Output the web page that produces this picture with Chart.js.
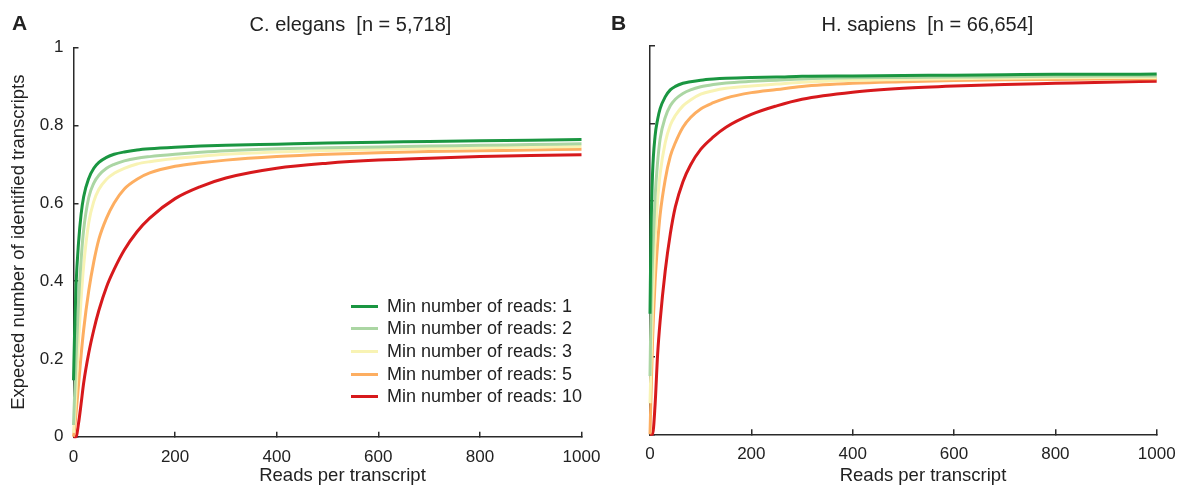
<!DOCTYPE html>
<html>
<head>
<meta charset="utf-8">
<script src="https://cdn.jsdelivr.net/npm/chart.js@4.4.1/dist/chart.umd.min.js"></script>
<style>
  body { margin: 0; background: #fff; font-family: 'Liberation Sans', Arial, sans-serif; color: #222; }
  #page { position: relative; width: 1181px; height: 485px; overflow: hidden; }
  canvas { position: absolute; top: 0; }
  .txt { position: absolute; white-space: pre; line-height: 1; }
  .center { transform: translateX(-50%); }
  .letter { font-weight: bold; font-size: 21px; }
  .title { font-size: 20px; }
  .xtitle { font-size: 18.5px; }
  #legend { position: absolute; left: 350.7px; top: 295px; z-index: 2; }
  .row { position: absolute; left: 0; height: 22px; display: flex; align-items: center; font-size: 18px; white-space: pre; }
  .swatch { width: 27px; height: 3px; margin-right: 9.3px; }
</style>
</head>
<body>
<div id="page">
  <canvas id="elegans" width="616" height="485" style="left:0"></canvas>
  <canvas id="sapiens" width="601" height="485" style="left:590px"></canvas>

  <div class="txt letter" style="left:12px; top:12.2px">A</div>
  <div class="txt letter" style="left:611px; top:12.2px">B</div>
  <div class="txt title center" style="left:350.5px; top:13.8px">C. elegans  [n = 5,718]</div>
  <div class="txt title center" style="left:927.5px; top:13.8px">H. sapiens  [n = 66,654]</div>
  <div class="txt xtitle center" style="left:342.5px; top:465.5px">Reads per transcript</div>
  <div class="txt xtitle center" style="left:923px; top:465.5px">Reads per transcript</div>
  <div id="legend"></div>
</div>

<script>
// reads per transcript where the curves were sampled
const readsPerTranscript = [0, 2, 5, 10, 15, 20, 30, 40, 50, 65, 80, 100, 125, 150, 200, 250, 300, 400, 500, 600, 700, 800, 900, 1000]
const minReads = [1, 2, 3, 5, 10]
const lineColors = ['#1a9641', '#abd6a3', '#f8f3b4', '#fdae61', '#d7191c']

const xTicks = [0, 200, 400, 600, 800, 1000]
const yTicks = [0, 0.2, 0.4, 0.6, 0.8, 1]

// C. elegans
const elegans1 = [0.145, 0.26, 0.39, 0.50, 0.572, 0.617, 0.664, 0.69, 0.705, 0.718, 0.726, 0.732, 0.737, 0.74, 0.744, 0.747, 0.749, 0.752, 0.755, 0.757, 0.759, 0.761, 0.762, 0.764]
const elegans2 = [0.03, 0.10, 0.20, 0.35, 0.455, 0.532, 0.615, 0.652, 0.672, 0.69, 0.70, 0.709, 0.716, 0.72, 0.726, 0.731, 0.735, 0.740, 0.743, 0.745, 0.747, 0.749, 0.751, 0.753]
const elegans3 = [0.01, 0.045, 0.115, 0.25, 0.355, 0.44, 0.55, 0.605, 0.636, 0.662, 0.677, 0.69, 0.701, 0.707, 0.715, 0.721, 0.726, 0.732, 0.736, 0.739, 0.741, 0.743, 0.745, 0.746]
const elegans5 = [0, 0.02, 0.06, 0.135, 0.21, 0.275, 0.375, 0.45, 0.508, 0.562, 0.601, 0.637, 0.662, 0.678, 0.695, 0.704, 0.711, 0.72, 0.726, 0.73, 0.733, 0.735, 0.737, 0.739]
const elegans10 = [0, 0, 0, 0.035, 0.085, 0.138, 0.215, 0.275, 0.325, 0.385, 0.43, 0.48, 0.527, 0.562, 0.612, 0.643, 0.665, 0.69, 0.703, 0.711, 0.716, 0.72, 0.723, 0.725]

// H. sapiens
const sapiens1 = [0.31, 0.52, 0.67, 0.767, 0.81, 0.838, 0.868, 0.886, 0.895, 0.903, 0.907, 0.911, 0.914, 0.916, 0.918, 0.919, 0.921, 0.922, 0.923, 0.924, 0.925, 0.926, 0.926, 0.927]
const sapiens2 = [0.15, 0.32, 0.45, 0.61, 0.70, 0.76, 0.815, 0.845, 0.862, 0.877, 0.886, 0.894, 0.90, 0.904, 0.908, 0.911, 0.914, 0.917, 0.918, 0.919, 0.92, 0.921, 0.922, 0.922]
const sapiens3 = [0.08, 0.18, 0.33, 0.50, 0.60, 0.67, 0.75, 0.795, 0.82, 0.845, 0.86, 0.875, 0.884, 0.89, 0.896, 0.901, 0.906, 0.911, 0.913, 0.915, 0.916, 0.917, 0.918, 0.918]
const sapiens5 = [0, 0.10, 0.24, 0.39, 0.49, 0.565, 0.655, 0.715, 0.75, 0.79, 0.815, 0.837, 0.853, 0.865, 0.879, 0.887, 0.895, 0.903, 0.907, 0.91, 0.912, 0.913, 0.914, 0.915]
const sapiens10 = [0, 0, 0, 0.075, 0.205, 0.292, 0.42, 0.515, 0.585, 0.65, 0.693, 0.733, 0.765, 0.79, 0.823, 0.845, 0.862, 0.88, 0.89, 0.896, 0.90, 0.903, 0.906, 0.908]

const axisColor = '#2a2a2a'

function makePanel(id, series, box) {
    const datasets = series.map((values, i) => ({
        label: 'Min number of reads: ' + minReads[i],
        data: values.map((v, j) => ({ x: readsPerTranscript[j], y: v })),
        borderColor: lineColors[i],
        backgroundColor: lineColors[i],
        borderWidth: 3,
        pointRadius: 0,
        cubicInterpolationMode: 'monotone',
        fill: false,
        clip: false
    }))

    return new Chart(document.getElementById(id), {
        type: 'line',
        data: { datasets: datasets },
        options: {
            responsive: false,
            animation: false,
            events: [],
            layout: { padding: { top: box.top, right: box.right, left: 0, bottom: 0 } },
            plugins: {
                legend: { display: false },
                tooltip: { enabled: false }
            },
            scales: {
                x: {
                    type: 'linear',
                    min: 0,
                    max: 1000,
                    afterBuildTicks: s => { s.ticks = xTicks.map(v => ({ value: v })) },
                    afterFit: s => { s.height = box.xHeight },
                    ticks: {
                        callback: v => String(v),
                        color: '#222',
                        font: { family: 'Liberation Sans', size: 17 },
                        padding: 15,
                        maxRotation: 0,
                        autoSkip: false
                    },
                    grid: { drawOnChartArea: false, tickLength: -5, color: axisColor, lineWidth: 1.5 },
                    border: { color: axisColor, width: 1.5 }
                },
                y: {
                    type: 'linear',
                    min: 0,
                    max: 1,
                    afterBuildTicks: s => { s.ticks = yTicks.map(v => ({ value: v })) },
                    afterFit: s => { s.width = box.yWidth },
                    ticks: {
                        callback: v => box.yLabels ? String(v) : '',
                        color: '#222',
                        font: { family: 'Liberation Sans', size: 17 },
                        padding: 15
                    },
                    grid: { drawOnChartArea: false, tickLength: -5, color: axisColor, lineWidth: 1.5 },
                    border: { color: axisColor, width: 1.5 },
                    title: {
                        display: box.yLabels,
                        text: 'Expected number of identified transcripts',
                        color: '#222',
                        font: { family: 'Liberation Sans', size: 18.5 },
                        padding: { top: 8, bottom: 0 }
                    }
                }
            }
        }
    })
}

// the x tick labels add ~34px of right padding, so the canvases are a bit wider
const left = makePanel('elegans', [elegans1, elegans2, elegans3, elegans5, elegans10],
    { top: 47.7, right: 34.5, xHeight: 48.3, yWidth: 73.5, yLabels: true })
makePanel('sapiens', [sapiens1, sapiens2, sapiens3, sapiens5, sapiens10],
    { top: 45.6, right: 34.3, xHeight: 50.7, yWidth: 60, yLabels: false })

// legend sits inside the left panel
const legendBox = document.getElementById('legend')
left.data.datasets.forEach((ds, i) => {
    const row = document.createElement('div')
    row.className = 'row'
    row.style.top = (i * 22.7) + 'px'
    row.innerHTML = `<span class="swatch" style="background:${ds.borderColor}"></span>${ds.label}`
    legendBox.appendChild(row)
})
</script>
</body>
</html>
